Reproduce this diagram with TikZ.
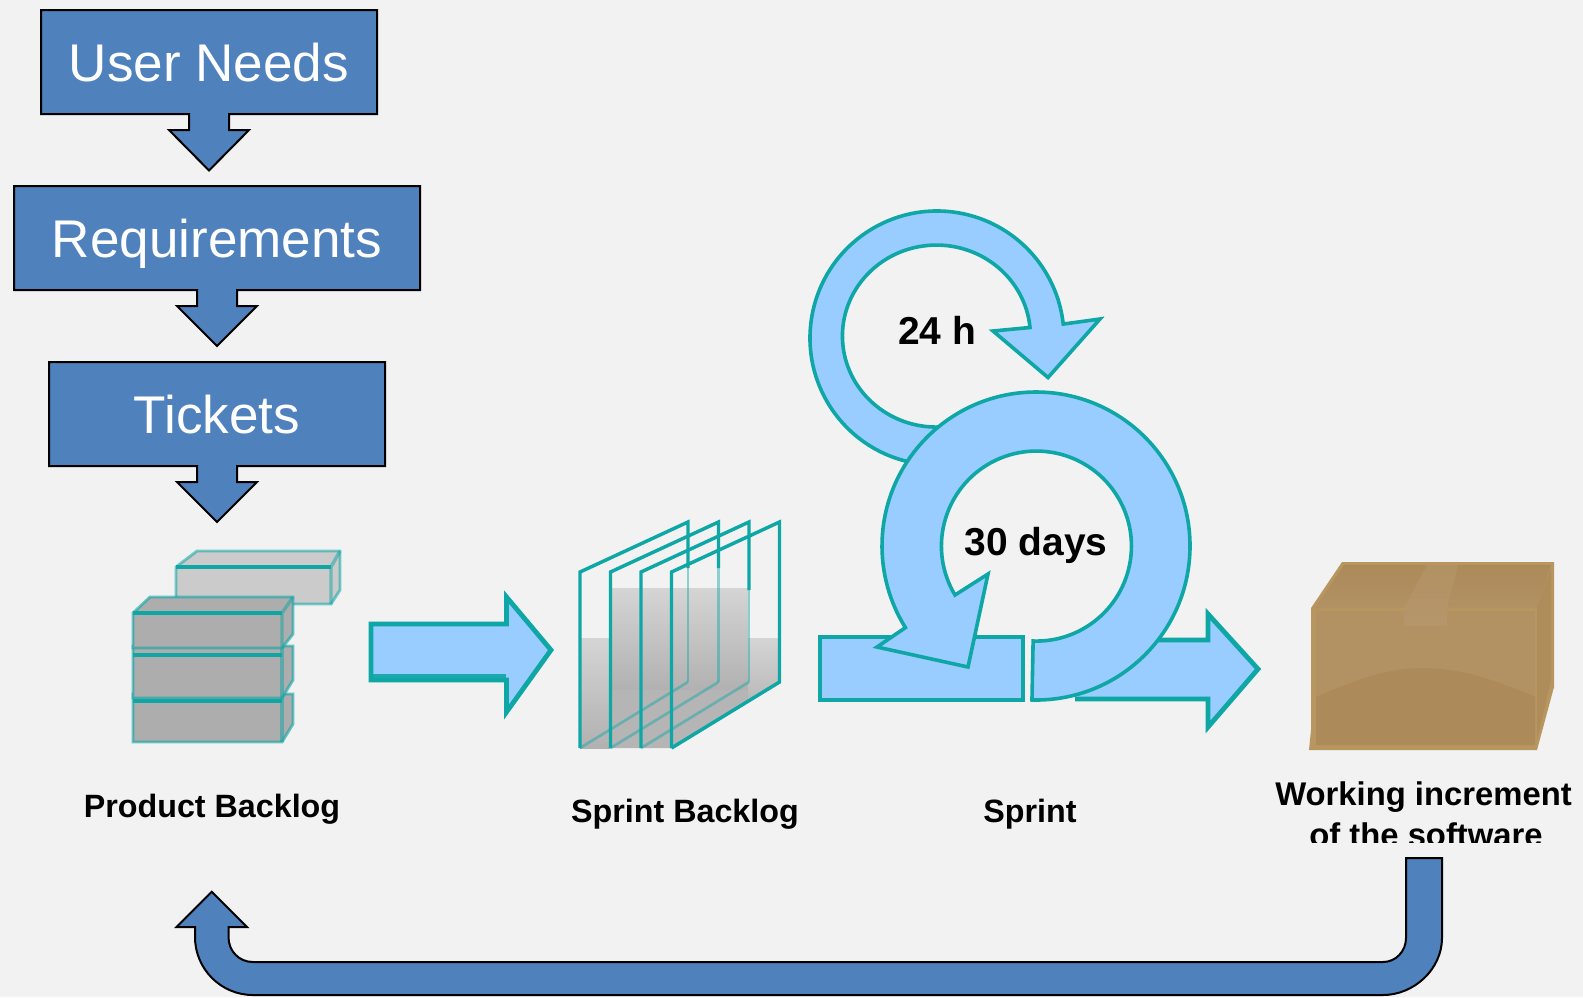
\documentclass[tikz,border=0pt]{standalone}
\usepackage{fontspec}
\setmainfont{Liberation Sans}
\usetikzlibrary{calc}
\definecolor{bgc}{HTML}{F2F2F2}
\definecolor{blockblue}{HTML}{4F81BD}
\definecolor{skyb}{HTML}{99CCFF}
\definecolor{tealc}{HTML}{0FA6A6}
\definecolor{greyd}{HTML}{ADADAD}
\definecolor{greyl}{HTML}{CBCBCB}
\definecolor{cardA}{HTML}{B29162}
\definecolor{cardB}{HTML}{AC8A5A}
\definecolor{cardE}{HTML}{B8965F}
\definecolor{cardT}{HTML}{B5966C}
\tikzset{
  block/.style={draw=black,fill=blockblue,line width=1.5pt,line join=miter},
  boxlabel/.style={text=white,anchor=base,inner sep=0pt,font=\fontsize{39.8}{44}\selectfont},
  sky/.style={draw=tealc,fill=skyb,line width=2.7pt,line join=miter},
  skyflat/.style={draw=tealc,fill=skyb,line width=3.6pt,line join=miter},
  piclabel/.style={text=black,anchor=base,inner sep=0pt,font=\fontsize{24.2}{28}\selectfont\bfseries},
  widelabel/.style={text=black,anchor=base,inner sep=0pt,font=\fontsize{24.6}{28}\selectfont\bfseries},
  looplabel/.style={text=black,anchor=base,inner sep=0pt,font=\fontsize{29.2}{32}\selectfont\bfseries},
  crate/.style={draw=tealc,draw opacity=.6,line width=2.2pt,fill=greyd},
  cratel/.style={draw=tealc,draw opacity=.55,line width=2.2pt,fill=greyl},
  edge/.style={draw=tealc,line width=2.6pt},
  sheetline/.style={draw=tealc,line width=2.6pt},
  faintline/.style={draw=tealc,draw opacity=.45,line width=2pt},
}
\begin{document}
\begin{tikzpicture}[x=0.75pt,y=-0.75pt]
\useasboundingbox (0,0) rectangle (1583,997);
\fill[bgc] (0,0) rectangle (1583,997);

% Stacked callouts
\draw[block] (41,10) -- (377,10) -- (377,114) -- (229,114) -- (229,130) -- (249,130) -- (209,170.5)
  -- (169,130) -- (189,130) -- (189,114) -- (41,114) -- cycle;
\node[boxlabel] (needs) at (209,81.6) {User Needs};
\draw[block] (14,186) -- (420,186) -- (420,290) -- (237,290) -- (237,306) -- (257,306) -- (217,346)
  -- (177,306) -- (197,306) -- (197,290) -- (14,290) -- cycle;
\node[boxlabel] (reqs) at (217,257) {Requirements};
\draw[block] (49,362) -- (385,362) -- (385,466) -- (237,466) -- (237,482) -- (257,482) -- (217,522)
  -- (177,482) -- (197,482) -- (197,466) -- (49,466) -- cycle;
\node[boxlabel] (tickets) at (217,433) {Tickets};

% Product backlog stack
\draw[cratel] (176,567) -- (197,551) -- (340,551) -- (340,590) -- (331,604) -- (176,604) -- cycle;
\draw[edge,draw opacity=.5] (331,567) -- (340,551) (331,567) -- (331,604);
\draw[edge] (176,567) -- (331,567);
\draw[crate] (133,694) -- (293,694) -- (293,724) -- (282,742) -- (133,742) -- cycle;
\draw[edge,draw opacity=.5] (282,694) -- (282,742);
\draw[edge] (133,701) -- (282,701);
\draw[crate] (133,646) -- (293,646) -- (293,680) -- (282,698) -- (133,698) -- cycle;
\draw[edge,draw opacity=.5] (282,646) -- (282,698);
\draw[edge] (133,655) -- (282,655);
\draw[crate] (133,613) -- (150,597) -- (293,597) -- (293,634) -- (282,648) -- (133,648) -- cycle;
\draw[edge,draw opacity=.5] (282,613) -- (293,597) (282,613) -- (282,648);
\draw[edge] (133,613) -- (282,613);

% Arrow to sprint backlog
\draw[skyflat] (371,624) -- (506.5,624) -- (506.5,597) -- (551,650) -- (506.5,712) -- (506.5,680) -- (371,680) -- cycle;
\fill[tealc,opacity=.9] (369,674) rectangle (506,682);

% Sprint backlog sheets
\shade[top color=greyl!75!bgc,bottom color=greyd!95!white] (610,588) rectangle (748,690);
\shade[top color=greyl!75!bgc,bottom color=greyd!95!white] (580,638) -- (610,638) -- (610,748) -- (580,748) -- cycle;
\shade[top color=greyl!75!bgc,bottom color=greyd!85!white] (748,638) -- (780,638) -- (780,682) -- (748,701) -- cycle;
\fill[greyd!90!white] (610,690) -- (748,690) -- (748,701) -- (672,748) -- (610,748) -- cycle;
\foreach \i/\xx/\ys in {0/580/568,1/610.5/568,2/641/590,3/671.5/636}{
  \draw[faintline] (\xx,748) -- ++(108,-66);
  \draw[faintline] (\xx+108,\ys) -- (\xx+108,682);
  \draw[sheetline] (\xx,748) -- (\xx,572) -- ++(108,-50) -- (\xx+108,\ys);
}
\draw[sheetline] (671.5,748) -- ++(108,-66) -- ++(0,-46);

% 24 h loop
\draw[sky] ([shift={(937,338)}]100:127) arc[start angle=100,end angle=353.7,radius=127]
  -- (1100,319) -- (1048,377.5) -- (993,331) -- (1030,327.5)
  arc[start angle=354.6,end angle=85,x radius=94,y radius=91] -- cycle;
\node[looplabel] (day) at (937,344) {24 h};

% Sprint base: flat bar, exit arrow and 30 days loop
\draw[skyflat] (820,637) rectangle (1023,700);
\draw[skyflat] (1075,640) -- (1208,640) -- (1208,614) -- (1258,669) -- (1208,727) -- (1208,699) -- (1075,699);
\draw[sky] ([shift={(1036,546)}]91.5:154) arc[start angle=91.5,end angle=-212,radius=154]
  -- (877,647) -- (968,667) -- (988,574) -- (955,595)
  arc[start angle=-211,end angle=92,radius=95] -- cycle;
\node[looplabel] (month) at (1036,555) {30 days};

% Cardboard box
\fill[cardE] (1311,608) -- (1342,562) -- (1554,562) -- (1554,687) -- (1537,750) -- (1309,750) -- (1311,730) -- cycle;
\shade[top color=cardB,bottom color=cardA] (1315,608) -- (1344,565) -- (1551,565) -- (1537,608) -- cycle;
\fill[cardB!80!cardE] (1537,608) -- (1551,568) -- (1551,680) -- (1537,740) -- cycle;
\fill[cardA] (1316,611) rectangle (1535,745);
\fill[cardB] (1316,697) .. controls (1360,678) and (1390,668) .. (1423,668) .. controls (1460,668) and (1495,680) .. (1535,697) -- (1535,745) -- (1316,745) -- cycle;
\shade[top color=cardA,bottom color=cardT] (1427,565) -- (1458,565) -- (1447,608) -- (1447,626) -- (1404,626) -- (1404,608) -- cycle;

% Labels
\node[piclabel] (pb) at (212,817) {Product Backlog};
\node[piclabel] (sb) at (685,822) {Sprint Backlog};
\node[piclabel] (sp) at (1030,822) {Sprint};
\node[widelabel] (wi) at (1423.5,805) {Working increment};
\begin{scope}
  \clip (1250,810) rectangle (1583,842);
  \node[widelabel] (os) at (1426,846) {of the software};
\end{scope}

% Feedback arrow
\draw[block] (1406,858) -- (1442,858) -- (1442,938) .. controls (1442,969) and (1414,995) .. (1383,995)
  -- (253,995) .. controls (221,995) and (195,969) .. (195,937) -- (195,927) -- (176.5,927)
  -- (211.7,891.7) -- (247,927) -- (228.5,927) -- (228.5,937)
  .. controls (228.5,951) and (239,962) .. (253,962) -- (1383,962)
  .. controls (1396,962) and (1406,951) .. (1406,938) -- cycle;
\end{tikzpicture}
\end{document}
